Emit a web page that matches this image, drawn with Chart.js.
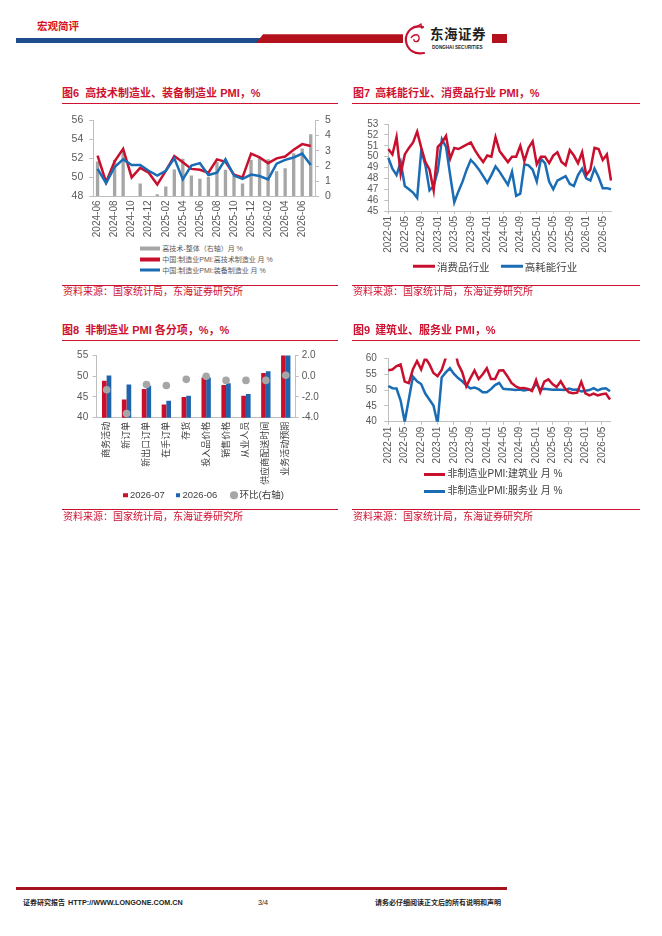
<!DOCTYPE html>
<html lang="zh-CN">
<head>
<meta charset="utf-8">
<title>宏观简评</title>
<script src="https://cdn.jsdelivr.net/npm/chart.js@4.4.1/dist/chart.umd.min.js"></script>
<style>
  html, body { margin: 0; padding: 0; background: #fff; }
  body { position: relative; width: 662px; height: 936px; overflow: hidden;
         font-family: "Liberation Sans", "Noto Sans CJK SC", sans-serif; }
  .abs { position: absolute; white-space: nowrap; line-height: 1; }
  .title { font-weight: bold; font-size: 11px; color: #cf1130; }
  .rule { position: absolute; height: 1px; background: #cf1130; }
  .src { font-size: 10px; color: #cf1130; }
  .chart { position: absolute; }
  .item { position: absolute; display: flex; align-items: center; white-space: nowrap;
          line-height: 1; transform: translateY(-50%); }
  .sw { display: inline-block; flex: none; }
</style>
</head>
<body>

<!-- header -->
<div class="abs" style="left:37px;top:21px;font-size:10.5px;font-weight:bold;color:#d7141d;">宏观简评</div>
<div class="abs" style="left:16px;top:37.7px;width:246px;height:5.6px;background:#1f4e8c;"></div>
<div class="abs" style="left:256px;top:34.3px;width:147px;height:9px;background:#b3121c;clip-path:polygon(7px 0,100% 0,100% 100%,0 100%);"></div>
<svg class="abs" style="left:403px;top:23px" width="26" height="34" viewBox="0 0 26 34">
  <path d="M20 4 C10 1 2 9 3 18 C4 27 12 32 21 30" fill="none" stroke="#c8102e" stroke-width="2.2" stroke-linecap="round"/>
  <path d="M8 15 C11 10 17 11 16 16 C15 20 10 19 11 16" fill="none" stroke="#c8102e" stroke-width="1.4"/>
  <path d="M13 4 L18 1 L19 6" fill="none" stroke="#c8102e" stroke-width="1.2"/>
</svg>
<div class="abs" style="left:430px;top:28px;font-size:13.5px;font-weight:bold;color:#231f20;letter-spacing:0.5px;">东海证券</div>
<div class="abs" style="left:432px;top:45.5px;font-size:4.6px;font-weight:bold;color:#231f20;">DONGHAI SECURITIES</div>
<div class="abs" style="left:492px;top:34.3px;width:15px;height:8.4px;background:#b3121c;"></div>

<!-- 图6 -->
<div class="abs title" style="left:62px;top:87.5px;"><span>图6</span><span style="margin-left:6px">高技术制造业、装备制造业 PMI，%</span></div>
<div class="rule" style="left:62px;top:102.5px;width:276px;"></div>
<div class="chart" style="left:60px;top:108px;"><canvas id="c6" width="280" height="132" style="width:280px;height:132px"></canvas></div>
<div id="lg6" class="abs" style="left:0;top:0;font-size:7px;color:#595959;"></div>
<div class="rule" style="left:62px;top:284.5px;width:276px;"></div>
<div class="abs src" style="left:63px;top:286.7px;">资料来源：国家统计局，东海证券研究所</div>

<!-- 图7 -->
<div class="abs title" style="left:353px;top:87.5px;"><span>图7</span><span style="margin-left:5px">高耗能行业、消费品行业 PMI，%</span></div>
<div class="rule" style="left:352px;top:102.5px;width:288px;"></div>
<div class="chart" style="left:350px;top:112px;"><canvas id="c7" width="275" height="152" style="width:275px;height:152px"></canvas></div>
<div id="lg7" class="abs" style="left:0;top:0;font-size:10.5px;color:#404040;"></div>
<div class="rule" style="left:352px;top:284.5px;width:288px;"></div>
<div class="abs src" style="left:353px;top:286.7px;">资料来源：国家统计局，东海证券研究所</div>

<!-- 图8 -->
<div class="abs title" style="left:62px;top:324.5px;"><span>图8</span><span style="margin-left:6px">非制造业 PMI 各分项，%，%</span></div>
<div class="rule" style="left:62px;top:339.8px;width:276px;"></div>
<div class="chart" style="left:55px;top:345px;"><canvas id="c8" width="290" height="145" style="width:290px;height:145px"></canvas></div>
<div id="lg8" class="abs" style="left:0;top:0;font-size:9.5px;color:#404040;"></div>
<div class="rule" style="left:62px;top:509px;width:276px;"></div>
<div class="abs src" style="left:63px;top:511.7px;">资料来源：国家统计局，东海证券研究所</div>

<!-- 图9 -->
<div class="abs title" style="left:353px;top:324.5px;"><span>图9</span><span style="margin-left:5px">建筑业、服务业 PMI，%</span></div>
<div class="rule" style="left:352px;top:339.8px;width:288px;"></div>
<div class="chart" style="left:350px;top:345px;"><canvas id="c9" width="275" height="125" style="width:275px;height:125px"></canvas></div>
<div id="lg9" class="abs" style="left:0;top:0;font-size:10px;color:#404040;"></div>
<div class="rule" style="left:352px;top:509px;width:288px;"></div>
<div class="abs src" style="left:353px;top:511.7px;">资料来源：国家统计局，东海证券研究所</div>

<!-- footer -->
<div class="abs" style="left:16px;top:886.7px;width:491px;height:3.3px;background:#a5131f;"></div>
<div class="abs" style="left:23px;top:899px;font-size:7px;font-weight:bold;color:#222;">证券研究报告</div>
<div class="abs" style="left:68px;top:899px;font-size:7.2px;font-weight:bold;color:#222;">HTTP://WWW.LONGONE.COM.CN</div>
<div class="abs" style="left:258px;top:899px;font-size:7.2px;color:#222;">3/4</div>
<div class="abs" style="left:375px;top:899px;font-size:7px;font-weight:bold;color:#222;">请务必仔细阅读正文后的所有说明和声明</div>

<script>
// ---- data ----
// 图6
const months6 = ['2024-06','2024-07','2024-08','2024-09','2024-10','2024-11','2024-12',
  '2025-01','2025-02','2025-03','2025-04','2025-05','2025-06','2025-07','2025-08','2025-09','2025-10','2025-11','2025-12',
  '2026-01','2026-02','2026-03','2026-04','2026-05','2026-06','2026-07'];
const hiTechGap = [2.3, null, 2.4, 2.95, null, 0.85, null, 0.15, 0.66, 1.77, 2.47, 1.38, 1.17, 1.28, 2.26, 1.76, 1.34, 0.86, 2.39, 2.6, 2.45, 1.66, 1.86, 2.83, 3.15, 4.08];
const hiTechPmi = [52.3, 49.5, 51.7, 53.0, 50.0, 51.0, 50.5, 49.25, 50.7, 52.25, 51.6, 50.9, 50.8, 50.5, 51.9, 51.65, 50.3, 50.0, 52.5, 52.1, 51.5, 52.0, 52.2, 52.9, 53.5, 53.3];
const equipPmi = [50.9, 49.4, 51.1, 51.9, 51.3, 51.3, 50.7, 50.2, 50.7, 52.0, 49.8, 51.25, 51.5, 50.25, 50.5, 51.9, 50.2, 49.85, 50.3, 50.15, 49.8, 51.45, 51.85, 52.1, 52.5, 51.3];

// 图7 / 图9
const monthsLong = ['2022-01','2022-02','2022-03','2022-04','2022-05','2022-06','2022-07','2022-08','2022-09','2022-10','2022-11','2022-12',
  '2023-01','2023-02','2023-03','2023-04','2023-05','2023-06','2023-07','2023-08','2023-09','2023-10','2023-11','2023-12',
  '2024-01','2024-02','2024-03','2024-04','2024-05','2024-06','2024-07','2024-08','2024-09','2024-10','2024-11','2024-12',
  '2025-01','2025-02','2025-03','2025-04','2025-05','2025-06','2025-07','2025-08','2025-09','2025-10','2025-11','2025-12',
  '2026-01','2026-02','2026-03','2026-04','2026-05','2026-06','2026-07'];
const consumerPmi = [50.7, 50.2, 51.8, 48.4, 50.2, 50.8, 51.3, 52.3, 50.8, 49.5, 48.8, 46.9, 50.9, 51.3, 51.9, 49.8, 50.8, 50.7, 50.9, 51.1,
  51.3, 50.6, 50.0, 49.5, 50.1, 50.0, 51.8, 50.5, 50.0, 49.5, 50.0, 50.0, 51.0, 49.6, 50.8, 51.4, 49.3, 50.0, 50.0, 49.4,
  50.1, 50.4, 49.5, 49.2, 50.6, 50.1, 49.4, 50.4, 48.3, 48.8, 50.8, 50.7, 49.7, 50.2, 47.8];
const energyPmi = [49.9, 48.9, 48.3, 49.5, 47.3, 47.0, 46.7, 46.2, 50.6, 49.2, 46.9, 47.3, 48.7, 51.6, 50.9, 48.3, 45.8, 46.8, 47.7, 48.8,
  49.7, 49.3, 48.8, 48.2, 47.6, 48.3, 49.1, 48.6, 48.0, 47.4, 48.6, 46.4, 46.6, 49.3, 49.2, 48.8, 47.7, 49.8, 49.4, 47.7,
  47.0, 47.8, 48.0, 48.2, 47.5, 47.3, 48.3, 48.9, 48.0, 47.8, 48.9, 48.1, 47.1, 47.1, 47.0];
const constructionPmi = [56.3, 56.5, 57.6, 58.1, 52.7, 52.2, 56.6, 59.2, 56.5, 60.2, 58.2, 55.4, 54.4, 56.4, 60.2, 65.6, 63.9, 58.2, 55.7, 51.2,
  53.8, 56.2, 53.5, 55.0, 56.9, 53.5, 53.5, 56.2, 56.3, 54.4, 52.3, 51.2, 50.6, 50.7, 50.4, 49.7, 53.2, 49.3, 52.7, 53.4,
  51.9, 51.0, 52.8, 50.6, 49.3, 49.0, 49.2, 52.6, 49.0, 48.3, 48.9, 48.3, 48.7, 48.9, 47.0];
const servicesPmi = [51.3, 50.6, 50.5, 46.7, 40.0, 47.1, 54.3, 52.8, 51.9, 48.9, 47.0, 45.1, 39.4, 54.0, 55.6, 56.9, 55.1, 53.8, 52.8, 51.5,
  50.5, 50.8, 50.3, 49.3, 49.3, 50.3, 51.6, 52.3, 50.4, 50.3, 50.2, 50.0, 50.2, 49.9, 50.1, 50.1, 52.0, 50.3, 50.4, 50.3,
  50.1, 50.2, 50.1, 50.0, 50.5, 50.1, 50.2, 49.6, 49.8, 50.0, 50.6, 49.9, 50.4, 50.6, 49.6];

// 图8
const subItems = ['商务活动','新订单','新出口订单','在手订单','存货','投入品价格','销售价格','从业人员','供应商配送时间','业务活动预期'];
const jul26 = [48.9, 44.4, 46.9, 43.2, 45.0, 49.7, 47.9, 45.3, 50.8, 55.7];
const jun26 = [50.2, 48.0, 47.7, 44.1, 45.3, 49.7, 48.3, 45.7, 51.2, 55.6];
const momChange = [-1.3, -3.6, -0.8, -0.9, -0.3, 0.0, -0.4, -0.4, -0.4, 0.1];

// ---- style ----
const RED = '#c8102e';
const BLUE = '#1a6cb4';
const GREY = '#a6a6a6';
const AXIS = '#bfbfbf';

Chart.defaults.font.family = "'Liberation Sans', 'Noto Sans CJK SC', sans-serif";
Chart.defaults.font.size = 10;
Chart.defaults.color = '#595959';
Chart.defaults.animation = false;
Chart.defaults.plugins.legend.display = false;
Chart.defaults.plugins.tooltip.enabled = false;

const fixW = (w) => (scale) => { scale.width = w; };
const fixH = (h) => (scale) => { scale.height = h; };
const everyNth = (n) => function (value, index) { return index % n === 0 ? this.getLabelForValue(value) : ''; };
const yAxis = (opts) => {
  const axis = Object.assign({
    border: { color: AXIS },
    grid: { drawOnChartArea: false, tickLength: 4, color: AXIS },
  }, opts);
  axis.ticks = Object.assign({ autoSkip: false }, opts.ticks);
  return axis;
};

// html legend built from the chart's own datasets
function htmlLegend(chart, boxId, marks) {
  const box = document.getElementById(boxId);
  chart.data.datasets.forEach((ds, i) => {
    const m = marks[i];
    const type = ds.type || chart.config.type;
    const item = document.createElement('div');
    item.className = 'item';
    item.style.left = m.x + 'px';
    item.style.top = m.y + 'px';
    const sw = document.createElement('span');
    sw.className = 'sw';
    const color = type === 'line' && ds.showLine !== false ? ds.borderColor : (ds.backgroundColor || ds.pointBackgroundColor);
    sw.style.cssText = `width:${m.w}px;height:${m.h}px;background:${color};border-radius:${m.round ? '50%' : '0'};margin-right:${m.gap}px`;
    const txt = document.createElement('span');
    txt.textContent = ds.label;
    item.appendChild(sw);
    item.appendChild(txt);
    box.appendChild(item);
  });
}

// 图6
const chart6 = new Chart(document.getElementById('c6'), {
  data: {
    labels: months6,
    datasets: [
      { type: 'bar', label: '高技术-整体（右轴）月 %', data: hiTechGap, yAxisID: 'y1', backgroundColor: GREY,
        categoryPercentage: 0.39, barPercentage: 1, order: 3 },
      { type: 'line', label: '中国:制造业PMI:高技术制造业 月 %', data: hiTechPmi, yAxisID: 'y', borderColor: RED,
        borderWidth: 2.5, pointRadius: 0, tension: 0, order: 2 },
      { type: 'line', label: '中国:制造业PMI:装备制造业 月 %', data: equipPmi, yAxisID: 'y', borderColor: BLUE,
        borderWidth: 2.5, pointRadius: 0, tension: 0, order: 1 },
    ],
  },
  options: {
    responsive: false,
    layout: { padding: { top: 8, right: 0, bottom: 0, left: 0 } },
    scales: {
      x: { offset: true, border: { color: AXIS }, grid: { display: false, drawTicks: false },
           ticks: { autoSkip: false, minRotation: 90, maxRotation: 90, padding: 4, callback: everyNth(2) },
           afterFit: fixH(43.5) },
      y: yAxis({ position: 'left', min: 48, max: 56, ticks: { stepSize: 2, padding: 6, font: { size: 10.5 } }, afterFit: fixW(33.3) }),
      y1: yAxis({ position: 'right', min: 0, max: 5, ticks: { stepSize: 1, padding: 6, font: { size: 10.5 } }, afterFit: fixW(25) }),
    },
  },
});
htmlLegend(chart6, 'lg6', [
  { x: 140, y: 248.3, w: 20, h: 4, gap: 2.3 },
  { x: 140, y: 259.3, w: 20, h: 3.5, gap: 2.3 },
  { x: 140, y: 270, w: 20, h: 3, gap: 2.3 },
]);

// 图7
const chart7 = new Chart(document.getElementById('c7'), {
  type: 'line',
  data: {
    labels: monthsLong,
    datasets: [
      { label: '消费品行业', data: consumerPmi, borderColor: RED, borderWidth: 2.5, pointRadius: 0, tension: 0 },
      { label: '高耗能行业', data: energyPmi, borderColor: BLUE, borderWidth: 2.5, pointRadius: 0, tension: 0 },
    ],
  },
  options: {
    responsive: false,
    layout: { padding: { top: 11.3, right: 14, bottom: 0, left: 0 } },
    scales: {
      x: { offset: false, border: { color: AXIS },
           grid: { drawOnChartArea: false, tickLength: 3, color: (c) => (c.index % 4 === 0 ? AXIS : 'rgba(0,0,0,0)') },
           ticks: { autoSkip: false, minRotation: 90, maxRotation: 90, padding: 2, callback: everyNth(4) },
           afterFit: fixH(53) },
      y: yAxis({ min: 45, max: 53, ticks: { stepSize: 1, padding: 6 }, afterFit: fixW(38.3) }),
    },
  },
});
htmlLegend(chart7, 'lg7', [
  { x: 413, y: 266.7, w: 22, h: 3, gap: 2 },
  { x: 500.7, y: 266.7, w: 22, h: 3, gap: 2 },
]);

// 图8
const chart8 = new Chart(document.getElementById('c8'), {
  data: {
    labels: subItems,
    datasets: [
      { type: 'bar', label: '2026-07', data: jul26, yAxisID: 'y', backgroundColor: RED,
        categoryPercentage: 0.47, barPercentage: 1, order: 1 },
      { type: 'bar', label: '2026-06', data: jun26, yAxisID: 'y', backgroundColor: '#1d64ad',
        categoryPercentage: 0.47, barPercentage: 1, order: 1 },
      { type: 'line', label: '环比(右轴)', data: momChange, yAxisID: 'y1', showLine: false,
        pointRadius: 3.8, pointBackgroundColor: GREY, pointBorderWidth: 0, backgroundColor: GREY, order: 0 },
    ],
  },
  options: {
    responsive: false,
    layout: { padding: { top: 9, right: 0, bottom: 0, left: 0 } },
    scales: {
      x: { offset: true, border: { color: AXIS }, grid: { display: false, drawTicks: false },
           ticks: { autoSkip: false, minRotation: 90, maxRotation: 90, padding: 4, color: '#404040', font: { size: 9 } },
           afterFit: fixH(72.3) },
      y: yAxis({ position: 'left', min: 40, max: 55, ticks: { stepSize: 5, padding: 4.5 }, afterFit: fixW(41.7) }),
      y1: yAxis({ position: 'right', min: -4, max: 2, ticks: { stepSize: 2, padding: 3, callback: (v) => v.toFixed(1) },
                  grid: { drawOnChartArea: false, tickLength: 3, color: AXIS }, afterFit: fixW(49.3) }),
    },
  },
});
htmlLegend(chart8, 'lg8', [
  { x: 123, y: 495, w: 4.5, h: 4.5, gap: 2.5 },
  { x: 175.5, y: 495, w: 4.5, h: 4.5, gap: 2.5 },
  { x: 230, y: 495, w: 7.5, h: 7.5, gap: 2, round: true },
]);

// 图9
const chart9 = new Chart(document.getElementById('c9'), {
  type: 'line',
  data: {
    labels: monthsLong,
    datasets: [
      { label: '非制造业PMI:建筑业 月 %', data: constructionPmi, borderColor: RED, borderWidth: 2.5, pointRadius: 0, tension: 0 },
      { label: '非制造业PMI:服务业 月 %', data: servicesPmi, borderColor: BLUE, borderWidth: 2.5, pointRadius: 0, tension: 0 },
    ],
  },
  options: {
    responsive: false,
    layout: { padding: { top: 9, right: 15, bottom: 0, left: 0 } },
    scales: {
      x: { offset: false, border: { color: AXIS },
           grid: { drawOnChartArea: false, tickLength: 3, color: (c) => (c.index % 4 === 0 ? AXIS : 'rgba(0,0,0,0)') },
           ticks: { autoSkip: false, minRotation: 90, maxRotation: 90, padding: 2, callback: everyNth(4) },
           afterFit: fixH(48.3) },
      y: yAxis({ min: 40, max: 60, ticks: { stepSize: 5, padding: 7.5 }, afterFit: fixW(38.3) }),
    },
  },
});
htmlLegend(chart9, 'lg9', [
  { x: 424, y: 474.3, w: 21, h: 3, gap: 2.5 },
  { x: 424, y: 491, w: 21, h: 3, gap: 2.5 },
]);
</script>
</body>
</html>
